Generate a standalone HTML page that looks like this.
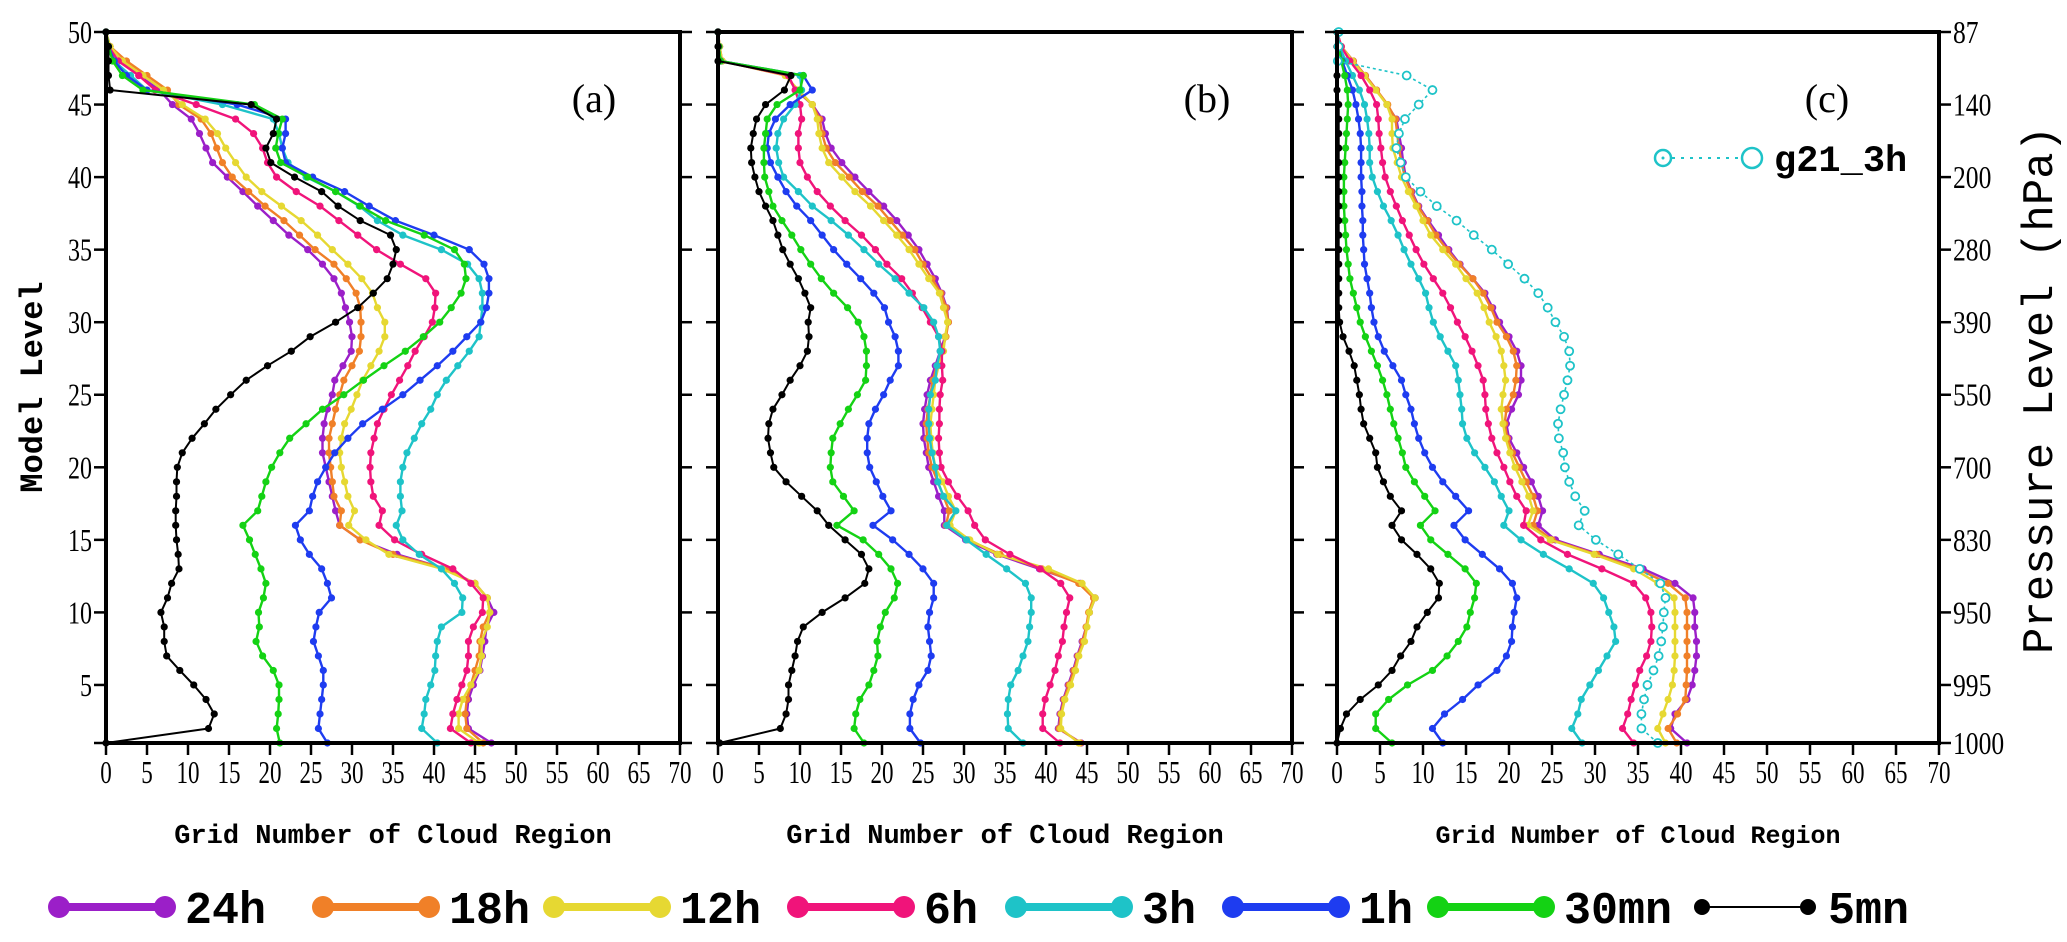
<!DOCTYPE html>
<html><head><meta charset="utf-8"><style>
html,body{margin:0;padding:0;background:#fff;}
svg{display:block;}
</style></head><body>
<svg id="chart" width="2067" height="942" viewBox="0 0 2067 942" xmlns="http://www.w3.org/2000/svg">
<text transform="translate(42,387) rotate(-90)" text-anchor="middle" font-family="Liberation Mono, monospace" font-size="32" font-weight="bold" fill="#000">Model Level</text>
<text transform="translate(2052,390) rotate(-90)" text-anchor="middle" font-family="Liberation Mono, monospace" font-size="44" fill="#000">Pressure Level (hPa)</text>
<g id="panels"></g>
<g id="legend"></g>
</svg>
<script>
// Levels 1..50, values = grid number of cloud region
const levels = Array.from({length:50},(_,i)=>i+1);
const xTicks = [0,5,10,15,20,25,30,35,40,45,50,55,60,65,70];
const yTicks = [5,10,15,20,25,30,35,40,45,50];
const pressureTickLevels = [1,5,10,15,20,25,30,35,40,45,50];
const pressureLabels = ["1000","995","950","830","700","550","390","280","200","140","87"];
const seriesNames = ["24h","18h","12h","6h","3h","1h","30mn","5mn"];
const seriesColors = ["#9b1fc8","#f08028","#e6d832","#f0147a","#1ec3c8","#1e3cf0","#14d214","#000000"];

const a24=[47,44.2,44,44.2,44.8,45.6,45.9,46.2,46.4,47.3,46.5,45,41.5,35.5,31,28.5,28,27.6,27.2,26.8,26.4,26.4,26.6,27,27.6,27.9,28.9,29.9,30,29.7,29.2,28.7,27.8,26.4,24.6,22.3,20.4,18.5,16.7,14.8,13,12.2,11.4,10.4,8.1,6.5,4,2,0.5,0];
const a18=[46,44,43.8,44,44.5,45,45.5,45.6,46,46.8,46.5,45,41.5,35,31,28.5,28.7,27.8,27.6,27.4,27.2,27.2,27.6,28,28.5,29,30,30.9,31.1,31.1,31,30.5,29.3,27.8,25.5,23.6,21.7,19.4,17.4,15.4,14.2,13.5,12.8,11.6,8.9,7.5,5,2.5,0.5,0];
const a12=[45.5,43,43,43.5,44.5,45.5,45.8,45.8,46.5,46.8,46.5,45,41,34.5,31.7,29.6,30.3,29.5,29.1,28.7,28.5,28.7,29.1,29.9,30.6,31.3,32.3,33.3,34,34,33.1,32.5,31.2,29.5,27.6,25.8,23.8,21.4,19,17.1,15.8,14.6,13.6,12.1,9.3,7,4.5,2,0.5,0];
const a6=[44.5,42,42.3,42.8,43.4,44,44.2,44.2,44.8,45.9,46,44.5,42.3,38.5,35.2,33.3,33.7,32.6,32.3,32.2,32.3,32.7,33.1,33.9,34.8,35.8,36.8,37.7,38.8,39.8,40.1,40.2,39,35.9,33,30.7,28.4,26.1,23.2,20.8,19.7,19.1,18,15.8,11,6,4,1.5,0.3,0];
const a3=[40.4,38.5,38.8,39,39.6,40.1,40.2,40.4,40.9,43.4,43.5,42.5,40.9,38.2,36.2,35.4,36.1,35.9,35.9,36.2,36.7,37.6,38.5,39.6,40.4,41.5,42.9,44.3,45.5,45.7,45.9,45.9,45.5,44.1,40.9,36.2,33.1,30.9,28,24.4,22.2,21.5,21.1,20.4,14.2,5,3,1,0.3,0];
const a1=[27,25.9,26.1,26.3,26.5,26.5,25.9,25.3,25.6,26,27.5,27,26.3,24.8,23.7,23.1,24.8,25.2,25.8,26.8,27.9,29.5,31.3,33.7,36.2,38.3,40.4,42.3,44,45.7,46.4,46.7,46.7,46.1,44.3,40,35.3,32.1,29.1,25.2,21.9,21.5,21.9,21.9,16,5,2.5,1,0.3,0];
const a30=[21.2,20.8,21,21.1,21.1,20.4,19.1,18.3,18.7,18.6,19.2,19.5,18.9,18.2,17.5,16.7,18.5,19,19.5,20.2,21.2,22.4,24.4,26.4,29,31.4,33.9,36.5,38.7,40.7,42.1,43.3,43.9,43.7,42.5,38.8,34.1,31,28,24.6,21.3,20.7,21,21.5,18.1,4.5,2,0.8,0.3,0];
const a5=[0,12.5,13.2,12.2,10.7,9,7.4,7.1,7.1,6.7,7.5,8,8.9,8.8,8.6,8.5,8.5,8.6,8.6,8.7,9.3,10.5,12,13.4,15.2,17.1,19.7,22.6,24.9,28,30.7,32.6,34.3,35,35.4,34.7,31,28.3,26.3,23,20.1,19.5,20.4,20.8,17.7,0.5,0.3,0.3,0.3,0];

const b24=[44.3,41.5,41.7,42.1,42.7,43.3,43.8,44.4,44.9,45.3,46,44.2,39.2,34,30.2,27.6,27.6,26.9,26.3,25.7,25.4,25.1,25,25.2,25.5,25.9,26.5,27.1,27.7,28.1,27.9,27.3,26.5,25.5,24.5,23.2,21.8,20.2,18.4,16.7,15.1,13.8,13.1,12.7,11.5,9.5,8.4,0.5,0.2,0];
const b18=[44.2,41.6,41.8,42.2,42.8,43.4,43.9,44.5,44.9,45.2,45.8,44,39.5,34.4,30.5,27.8,28.2,27.5,26.8,26.1,25.7,25.5,25.4,25.6,25.9,26.2,26.7,27.3,27.8,28.1,27.8,27.2,26.1,25,24,22.5,21,19.5,17.6,16,14.3,13.2,12.7,12.4,11.5,9.6,8.3,0.5,0.2,0];
const b12=[44,41.8,41.9,42.3,43,43.6,44,44.7,45,45.3,46,44.4,40.3,34.1,30.7,28.3,29,28.1,27.4,26.5,26.2,26,25.9,26.1,26.3,26.5,26.9,27.5,27.7,28,27.5,27,25.7,24.5,23.3,21.8,20.2,18.6,16.7,15.1,13.5,12.7,12.3,12.1,11.5,9.8,8.2,0.5,0.2,0];
const b6=[41.7,39.6,39.6,39.9,40.5,41.1,41.5,42,42.2,42.5,42.9,41.8,39.3,35.6,32.6,31.3,30.5,29.2,28.1,27.2,27,26.9,27,27,27.1,27.4,27.3,27.3,26.9,25.9,24.9,23.7,22.4,20.6,19.2,17.5,15.5,13.7,12.1,10.9,10,9.8,9.8,10.2,10,9.4,8.6,0.3,0.1,0];
const b3=[37.2,35.4,35.3,35.4,35.7,36.6,37.2,37.8,38,38.2,38.2,37.5,35.2,32.7,30.3,27.9,29,27.5,26.8,26.5,26.1,25.8,25.7,25.7,25.9,26.5,26.7,27.1,26.9,26.3,25.1,23.3,21.6,19.6,17.8,15.9,13.8,11.5,9.8,8,7.4,7.1,7.3,8,9.4,10.2,10,0.3,0.1,0];
const b1=[24.7,23.4,23.4,23.8,24.5,25.6,26,25.8,25.6,25.8,26.3,26.3,25,23.3,21.3,18.9,21.1,20.1,19.3,18.5,18.2,18.2,18.4,19.2,20.2,21,22,22,21.6,20.8,20.3,19,17.4,15.7,14.1,12.7,11.3,9.6,8.3,7.3,6.4,6,6.2,7,8.8,11.5,10.4,0.3,0.1,0];
const b30=[17.8,16.6,16.8,17.3,18.4,19,19.5,19.4,19.8,20.4,21.5,21.9,21.1,19.6,17.7,14.5,16.6,15.3,14,13.7,13.8,14,14.9,15.9,17,18,18.1,18.1,17.8,17.1,15.8,14.1,12.6,11.3,10.1,9,7.8,6.7,6.2,5.7,5.6,5.6,5.8,6,7.2,10,10.4,0.3,0.1,0];
const b5=[0.2,7.6,8.3,8.6,8.6,9,9.4,9.7,10.4,12.7,15.5,17.9,18.4,17.5,15.5,13.5,12.1,10.2,8.3,6.8,6.4,6.1,6.2,6.7,7.8,8.8,10,10.9,11.1,11,11.3,10.6,9.8,8.8,7.9,7.3,6.7,5.8,5,4.5,4.1,4,4.3,4.7,5.8,8.1,8.9,0,0,0];

const c24=[40.7,38.8,39.3,40.7,41.3,41.6,41.8,41.8,41.6,41.6,41.4,39.3,35.6,30.5,25.4,23.4,23.9,23.4,22.6,21.7,20.9,20,19.7,20.3,21.1,21.4,21.4,20.9,20,18.9,18.1,17.2,15.8,14.3,13,11.8,10.6,9.5,8.7,8,7.7,7.5,7.2,6.9,5.8,4.6,3.3,1.9,0.5,0];
const c18=[39.5,38.5,39.6,40.5,40.6,40.7,40.7,40.7,40.7,40.7,40.5,38.5,35,30.2,25,22.8,23.3,22.8,22,21.2,20.4,19.8,19.5,19.7,20.5,20.8,20.9,20.5,19.7,18.6,17.9,17,15.8,14.2,12.8,11.5,10.5,9.4,8.6,7.9,7.5,7.2,7,6.8,5.9,4.6,3.3,1.9,0.5,0];
const c12=[38.2,37.3,37.9,38.5,39,39.2,39.3,39.3,39.3,39.3,39.2,37.3,34.5,29.9,24.8,22.2,22.8,22.3,21.5,20.7,20.1,19.6,19.3,19.1,19.3,19.6,19.4,19.1,18.5,17.7,17.1,16.3,15,13.8,12.3,10.9,10,9.2,8.3,7.5,7,6.5,6.4,6.4,5.8,4.5,3.2,1.8,0.5,0];
const c6=[34.5,33.2,33.8,34.2,34.7,35.2,36,36.5,36.6,36.5,35.9,34.5,30.8,26.8,23.7,21.7,22,20.9,20.1,19.4,18.6,18,17.6,17.3,17.2,17,16.4,15.7,14.9,14,13.2,12.3,11.2,10.1,9.2,8.4,7.6,6.9,6.2,5.6,5.3,5.1,4.9,4.8,4.6,3.8,2.8,1.5,0.5,0];
const c3=[28.5,27.3,28,28.4,29.4,30.4,31.4,32.4,32.2,31.6,31,29.8,27,24,21.4,19.4,20,19.1,18.3,17.2,16,15.1,14.6,14.5,14.3,14.1,13.8,12.9,12,11.2,10.7,10.3,9.5,8.6,7.8,7.1,6.3,5.4,4.7,4.1,3.8,3.8,3.7,3.5,3.2,2.6,1.8,1,0.3,0];
const c1=[12.3,11.1,12.5,14.6,16.4,18.6,19.7,20.3,20.4,20.6,20.9,20.4,18.9,16.9,14.9,13.6,15.3,13.8,12.3,11.1,10.2,9.5,9,8.6,8,7.5,6.5,5.5,4.8,4.3,4,3.8,3.5,3.2,3.1,3,3,2.9,2.9,2.8,2.8,2.8,2.7,2.5,2.2,1.8,1.2,0.6,0.2,0];
const c30=[6.4,4.5,4.5,6,8.2,11.1,12.8,14.1,15.1,15.5,16,16.2,14.9,12.9,10.9,9.7,11.4,10.2,9,8,7.6,7.1,6.6,6.2,5.8,5.3,4.7,4,3.3,2.7,2.3,1.9,1.5,1.3,1.1,1,0.9,0.8,0.8,0.8,0.9,1,1.1,1.2,1.3,1.2,0.9,0.5,0.2,0];
const c5=[0,0.4,1.1,2.7,4.8,6.4,7.4,8.6,9.3,10.5,11.8,11.9,10.9,9.3,7.5,6.4,7.5,6.2,5.4,4.7,4.5,3.8,3.1,2.8,2.6,2.3,2,1.4,0.7,0.3,0.2,0.2,0.2,0.2,0.2,0.2,0.2,0.2,0.2,0.2,0.2,0.2,0.2,0.2,0.2,0,0,0,0,0];
const cg21=[37.3,35.4,35.4,35.7,36.1,36.8,37.4,37.7,37.9,38,38.2,37.6,35.2,32.7,30.1,28.1,28.8,27.7,27,26.5,26.3,25.8,25.7,26,26.4,26.8,27.1,27,26.4,25.4,24.5,23.4,21.8,19.9,18,15.9,13.9,11.6,9.7,8,7.4,6.9,7.2,7.9,9.5,11.1,8.1,0.1,0.2,0.2];

const panels=[
  {id:"a",x0:106,x1:680,label:"(a)",lx:594,series:[a24,a18,a12,a6,a3,a1,a30,a5],leftLabels:true,right:false},
  {id:"b",x0:718,x1:1292,label:"(b)",lx:1207,series:[b24,b18,b12,b6,b3,b1,b30,b5],leftLabels:false,right:false},
  {id:"c",x0:1337,x1:1939,label:"(c)",lx:1827,series:[c24,c18,c12,c6,c3,c1,c30,c5],leftLabels:false,right:true}
];
const Y0=32,Y1=743;
const NS="http://www.w3.org/2000/svg";
function mk(tag,attrs,parent){const e=document.createElementNS(NS,tag);for(const k in attrs)e.setAttribute(k,attrs[k]);parent.appendChild(e);return e;}
function yScale(l){return Y1-(l-1)/(50-1)*(Y1-Y0);}
const root=document.getElementById("panels");
panels.forEach(p=>{
  const xs=v=>p.x0+v/70*(p.x1-p.x0);
  const g=mk("g",{},root);
  
  
  p.series.forEach((vals,si)=>{
    const col=seriesColors[si];
    const sg=mk("g",{},g);
    
    
    const pts=vals.map((v,i)=>xs(v).toFixed(1)+","+yScale(levels[i]).toFixed(1)).join(" ");
    const pl=mk("polyline",{points:pts,fill:"none",stroke:col,"stroke-width":si==7?2:2.4,"stroke-linejoin":"round"},sg);
    
    
    vals.forEach((v,i)=>{
      const c=mk("circle",{cx:xs(v),cy:yScale(levels[i]),r:3.6,fill:col},sg);
      
      
    });
  });
  if(p.id==="c"){
    const sg=mk("g",{},g);
    
    
    const pts=cg21.map((v,i)=>xs(v).toFixed(1)+","+yScale(levels[i]).toFixed(1)).join(" ");
    const pl=mk("polyline",{points:pts,fill:"none",stroke:"#1ec3c8","stroke-width":1.6,"stroke-dasharray":"3,3"},sg);
    
    
    cg21.forEach((v,i)=>{
      const c=mk("circle",{cx:xs(v),cy:yScale(levels[i]),r:4,fill:"#fff",stroke:"#1ec3c8","stroke-width":1.8},sg);
      
      
    });
  }
  const fr=mk("rect",{x:p.x0,y:Y0,width:p.x1-p.x0,height:Y1-Y0,fill:"none",stroke:"#000","stroke-width":4},g);
  
  
  xTicks.forEach(t=>{
    const x=xs(t);
    const l=mk("line",{x1:x,y1:Y1,x2:x,y2:Y1+12,stroke:"#000","stroke-width":2.5},g);
    
    
    const tx=mk("text",{x:x,y:Y1+40,"text-anchor":"middle","font-family":"Liberation Serif, serif","font-size":32,transform:`translate(${x},0) scale(0.72,1) translate(${-x},0)`},g);
    tx.textContent=t;
    
    
  });
  const xt=mk("text",{x:(p.x0+p.x1)/2,y:843,"text-anchor":"middle","font-family":"Liberation Mono, monospace","font-size":p.id==="c"?25:27,"font-weight":"bold"},g);
  xt.textContent="Grid Number of Cloud Region";
  
  
  yTicks.concat([1]).forEach(t=>{
    const y=yScale(t);
    const l=mk("line",{x1:p.x0-12,y1:y,x2:p.x0,y2:y,stroke:"#000","stroke-width":2.5},g);
    
    
    const r=mk("line",{x1:p.x1,y1:y,x2:p.x1+12,y2:y,stroke:"#000","stroke-width":2.5},g);
    
    
  });
  if(p.leftLabels){
    yTicks.forEach(t=>{
      const y=yScale(t);
      const tx=mk("text",{x:p.x0-14,y:y+11,"text-anchor":"end","font-family":"Liberation Serif, serif","font-size":32,transform:`translate(${p.x0-14},0) scale(0.75,1) translate(${-(p.x0-14)},0)`},g);
      tx.textContent=t;
      
      
    });
  }
  if(p.right){
    pressureTickLevels.forEach((t,i)=>{
      const y=yScale(t);
      const tx=mk("text",{x:p.x1+14,y:y+11,"text-anchor":"start","font-family":"Liberation Serif, serif","font-size":32,transform:`translate(${p.x1+14},0) scale(0.8,1) translate(${-(p.x1+14)},0)`},g);
      tx.textContent=pressureLabels[i];
      
      
    });
    const lg=mk("g",{},g);
    
    
    mk("line",{x1:1663,y1:158,x2:1752,y2:158,stroke:"#1ec3c8","stroke-width":2,"stroke-dasharray":"3,6"},lg);
    mk("circle",{cx:1663,cy:158,r:8,fill:"#fff",stroke:"#1ec3c8","stroke-width":2.5},lg);
    mk("circle",{cx:1663,cy:158,r:1.5,fill:"#1ec3c8"},lg);
    mk("circle",{cx:1752,cy:158,r:10,fill:"#fff",stroke:"#1ec3c8","stroke-width":2.5},lg);
    const lt=mk("text",{x:1774,y:171,"font-family":"Liberation Mono, monospace","font-size":37,"font-weight":"bold"},lg);
    lt.textContent="g21_3h";
    
    
  }
  const pl=mk("text",{x:p.lx,y:112,"text-anchor":"middle","font-family":"Liberation Serif, serif","font-size":40},g);
  pl.textContent=p.label;
  
  
});
const legX=[59,323,554,798,1016,1233,1438,1702];
const legend=document.getElementById("legend");
seriesNames.forEach((n,i)=>{
  const x=legX[i],w=106,y=907,col=seriesColors[i];
  const lg=mk("g",{},legend);
  
  
  mk("line",{x1:x,y1:y,x2:x+w,y2:y,stroke:col,"stroke-width":i==7?2:8},lg);
  mk("circle",{cx:x,cy:y,r:i==7?8:11,fill:col},lg);
  mk("circle",{cx:x+w,cy:y,r:i==7?8:11,fill:col},lg);
  const t=mk("text",{x:x+w+20,y:y+16,"font-family":"Liberation Mono, monospace","font-size":45,"font-weight":"bold"},lg);
  t.textContent=n;
  
  
});
</script>
</body></html>
